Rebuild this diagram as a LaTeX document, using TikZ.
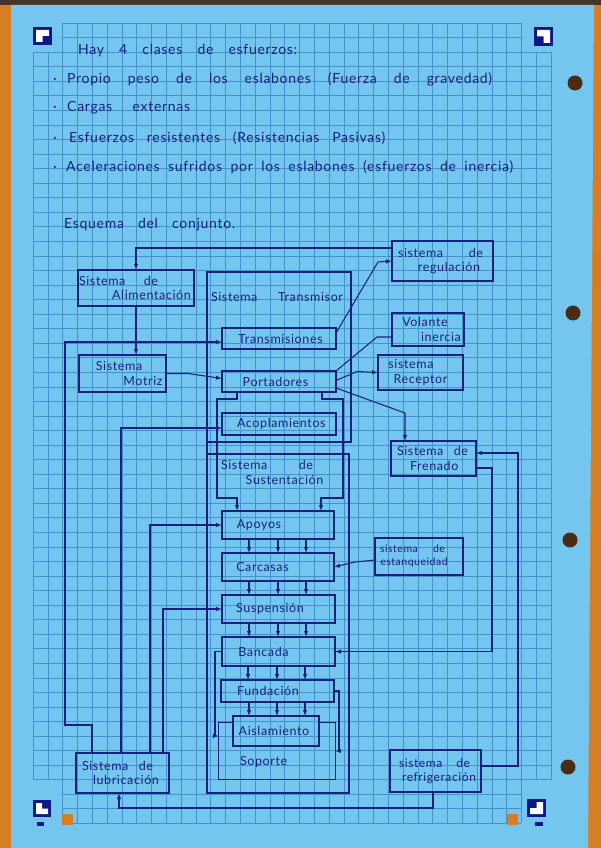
\documentclass[tikz,border=0pt]{standalone}
\usepackage{fontspec}
\usepackage{tikz}
\usetikzlibrary{arrows.meta, calc}

\newfontfamily\handfont{Lato}[LetterSpace=5]

\definecolor{deskorange}{RGB}{214,126,38}
\definecolor{deskdark}{RGB}{70,52,38}
\definecolor{paperblue}{RGB}{116,198,238}
\definecolor{gridblue}{RGB}{66,146,208}
\definecolor{inkblue}{RGB}{26,32,124}
\definecolor{markblue}{RGB}{14,24,132}
\definecolor{holebrown}{RGB}{74,44,20}

\newcommand{\hw}[3][0pt]{\hspace*{#1}\makebox[#2][s]{#3}\hspace*{-#1}}

\tikzset{
  ink/.style={draw=inkblue, line width=1.05pt},
  gridline/.style={draw=gridblue, line width=0.5pt},
  arr/.style={ink, -{Latex[length=6pt,width=4.5pt]}},
  hand/.style={text=inkblue, inner sep=0pt, font=\handfont\fontsize{14}{16}\selectfont},
  lbl/.style={text=inkblue, inner sep=0pt, align=center, font=\handfont\fontsize{12.5}{14.5}\selectfont},
  box/.style={lbl, ink, outer sep=0pt},
}

\begin{document}
\begin{tikzpicture}[x=1pt, y=-1pt]
\useasboundingbox (0,0) rectangle (601,848);
\fill[deskorange] (0,0) rectangle (601,848);
\fill[deskdark] (0,0) rectangle (601,5);
\fill[paperblue] (11,5) -- (594,5) -- (588,848) -- (11,848) -- cycle;

\foreach \i in {0,...,35}
  \draw[gridline] ({33+14.8*\i},52.1) -- ({33+14.8*\i},779.6);
\foreach \j in {2,...,52}
  \draw[gridline] (33,{23+14.55*\j}) -- (551,{23+14.55*\j});
\foreach \i in {2,...,33} {
  \draw[gridline] ({33+14.8*\i},23) -- ({33+14.8*\i},52.1);
  \draw[gridline] ({33+14.8*\i},779.6) -- ({33+14.8*\i},823.2);
}
\foreach \j in {0,1,53,54,55}
  \draw[gridline] (62.6,{23+14.55*\j}) -- (521.4,{23+14.55*\j});

\fill[markblue] (33,27) rectangle (52,45);
\fill[white] (36,30) -- (49,30) -- (49,36) -- (42.5,36) -- (42.5,42) -- (36,42) -- cycle;
\fill[markblue] (534,27) rectangle (553,46);
\fill[white] (537,30) -- (550,30) -- (550,43) -- (543.5,43) -- (543.5,36.5) -- (537,36.5) -- cycle;
\fill[markblue] (33,800) rectangle (51,817);
\fill[white] (36,803) -- (42,803) -- (42,808.5) -- (48,808.5) -- (48,814) -- (36,814) -- cycle;
\fill[markblue] (527,799) rectangle (546,817);
\fill[white] (536.5,802) -- (543,802) -- (543,814) -- (530,814) -- (530,808) -- (536.5,808) -- cycle;
\fill[markblue] (37,822) rectangle (44,826);
\fill[markblue] (535,822) rectangle (543,826);
\fill[deskorange] (62,814) rectangle (73,825);
\fill[deskorange] (507,814) rectangle (518,825);
\foreach \px/\py in {575/83, 573/313, 570/540, 568/767}
  \fill[holebrown] (\px,\py) circle (7.5pt);

\node[hand, anchor=west] (titulo) at (78,51) {\hw{219pt}{Hay 4 clases de esfuerzos:}};
\node[hand, anchor=west] (peso) at (53,79) {\makebox[14pt][l]{·}\hw{425pt}{Propio peso de los eslabones (Fuerza de gravedad)}};
\node[hand, anchor=west] (cargas) at (53,108) {\makebox[14pt][l]{·}\hw{123pt}{Cargas externas}};
\node[hand, anchor=west] (resist) at (53,138) {\makebox[16pt][l]{·}\hw{316pt}{Esfuerzos resistentes (Resistencias Pasivas)}};
\node[hand, anchor=west] (acel) at (53,167) {\makebox[13pt][l]{·}\hw{447pt}{Aceleraciones sufridos por los eslabones (esfuerzos de inercia)}};
\node[hand, anchor=west] (esquema) at (64,225) {\hw{171pt}{Esquema del conjunto.}};

\node[box, minimum width=144pt, minimum height=170pt] (trans) at (279,357) {};
\node[lbl] (transt) at (277,297) {\hw{132pt}{Sistema Transmisor}};
\node[box, minimum width=142pt, minimum height=339pt] (sust) at (278,623.5) {};
\node[lbl] (sustt) at (276,472.5) {\hw[-9pt]{92pt}{Sistema de}\\\hw[8.5pt]{97pt}{\hfil Sustentación\hfil}};
\draw[ink] (trans.south west) -- (sust.north west);

\node[box, minimum width=101pt, minimum height=40pt] (reg) at (442.5,261) {\hw[-2pt]{85pt}{sistema de}\\\hw[6.5pt]{68pt}{\hfil regulación\hfil}};
\node[box, minimum width=116pt, minimum height=36pt] (alim) at (136,288) {\hw[-17.5pt]{79pt}{Sistema de}\\\hw[15.5pt]{83pt}{\hfil Alimentación\hfil}};
\node[box, minimum width=114pt, minimum height=21pt] (tras) at (279,338.5) {\hw[1.5pt]{91pt}{\hfil Transmisiones\hfil}};
\node[box, minimum width=87pt, minimum height=37pt] (motriz) at (122.5,373.5) {\hw[-3.5pt]{52pt}{\hfil Sistema\hfil}\\\hw[20.5pt]{42pt}{\hfil Motriz\hfil}};
\node[box, minimum width=114pt, minimum height=21pt] (port) at (279,381.5) {\hw[-3.5pt]{79pt}{\hfil Portadores\hfil}};
\node[box, minimum width=114pt, minimum height=22pt] (acop) at (279,424) {\hw[1pt]{86pt}{\hfil Acoplamientos\hfil}};
\node[box, minimum width=72pt, minimum height=33pt] (vol) at (428,329.5) {\hw[-3pt]{48pt}{\hfil Volante\hfil}\\\hw[13pt]{40pt}{\hfil inercia\hfil}};
\node[box, minimum width=85pt, minimum height=35pt] (recep) at (420.5,372.5) {\hw[-9.5pt]{52pt}{\hfil sistema\hfil}\\\hw{65pt}{\hfil Receptor\hfil}};
\node[box, minimum width=85pt, minimum height=35pt] (fren) at (433.5,458.5) {\hw[-1pt]{71pt}{Sistema de}\\\hw[-3.5pt]{40pt}{\hfil Frenado\hfil}};
\node[box, minimum width=112pt, minimum height=28pt] (apoy) at (278,525) {\hw[-19pt]{46pt}{\hfil Apoyos\hfil}};
\node[box, minimum width=112pt, minimum height=28pt] (carc) at (278,567) {\hw[-15.5pt]{53pt}{\hfil Carcasas\hfil}};
\node[box, minimum width=113pt, minimum height=28pt] (susp) at (278.5,609) {\hw[-8.5pt]{68pt}{\hfil Suspensión\hfil}};
\node[box, minimum width=113pt, minimum height=29pt] (banc) at (278.5,651.5) {\hw[-15pt]{55pt}{\hfil Bancada\hfil}};
\node[box, minimum width=113pt, minimum height=22pt] (fund) at (277.5,691) {\hw[-9.5pt]{68pt}{\hfil Fundación\hfil}};
\node[lbl, minimum width=116pt, minimum height=56pt] (sop) at (277,751) {};
\node[box, minimum width=86pt, minimum height=30pt] (aisl) at (276,731) {\hw[-2pt]{76pt}{\hfil Aislamiento\hfil}};
\draw[ink] (aisl.west |- sop.north) -- (sop.north west) -- (sop.south west) -- (sop.south east) -- (sop.north east) -- (aisl.east |- sop.north);
\node[lbl] (sopt) at (263,762) {\hw{46pt}{\hfil Soporte\hfil}};
\node[box, minimum width=88pt, minimum height=37pt, font=\handfont\fontsize{10.5}{13}\selectfont] (estan) at (419,556.5) {\hw[-6.5pt]{65pt}{sistema de}\\\hw[-5pt]{76pt}{\hfil estanqueidad\hfil}};
\node[box, minimum width=93pt, minimum height=40pt] (lub) at (122.5,773) {\hw[-5pt]{71pt}{Sistema de}\\\hw[3.5pt]{72pt}{\hfil lubricación\hfil}};
\node[box, minimum width=91pt, minimum height=42pt, font=\handfont\fontsize{12}{14}\selectfont] (refr) at (435.5,771) {\hw[-1pt]{71pt}{sistema de}\\\hw[3.5pt]{74pt}{\hfil refrigeración\hfil}};

\draw[arr] ($(reg.north west)+(0,7)$) -| (alim.north);
\draw[arr] (alim.south) -- (alim.south |- motriz.north);
\draw[arr] (motriz.east) -- ++(22,0) -- ($(port.west)+(0,-3)$);
\draw[arr] ($(tras.north east)+(0,5)$) -- ++(42,-71) -- (reg.west);
\draw[ink] (port.north east) -- ++(41,-34) -- ($(vol.west)+(0,7.5)$);
\draw[arr] ($(port.east)+(0,-1)$) -- ++(21,-9) -- (recep.west);
\draw[arr] ($(port.south east)+(0,-4)$) -- ++(69,25) -- ($(fren.north west)+(14,0)$);
\draw[arr] ($(port.south west)+(15,0)$) -- ++(0,7) -| (217,498) -| ($(apoy.north west)+(15,0)$);
\draw[arr] ($(port.south east)+(-14,0)$) -- ++(0,7) -| (343,498) -| ($(apoy.north east)+(-13,0)$);

\foreach \a/\b in {apoy/carc, carc/susp, susp/banc, banc/fund}
  \foreach \dx in {27,56,84} {
    \coordinate (t) at ($(\b.north west)+(\dx,0)$);
    \draw[arr] (t |- \a.south) -- (t);
  }
\foreach \dx in {16,44,72} {
  \coordinate (t) at ($(aisl.north west)+(\dx,0)$);
  \draw[arr] (t |- fund.south) -- (t);
}

\draw[arr] ($(estan.west)+(0,3.5)$) -- ++(-20,2) -- (carc.east);
\draw[arr] ($(fren.south east)+(0,-8)$) -- ++(16,0) |- (banc.east);
\draw[arr] ($(refr.east)+(0,-5)$) -- ++(37,0) |- ($(fren.east)+(0,-5.5)$);
\draw[arr] ($(refr.south)+(-2.5,0)$) -- ++(0,16) -| ($(lub.south)+(-3.5,0)$);
\draw[arr] ($(lub.north west)+(16,0)$) -- ++(0,-28) -- ++(-27,0) |- ($(tras.west)+(0,3.5)$);
\draw[arr] ($(lub.north west)+(45,0)$) |- ($(acop.west)+(0,4)$);
\draw[arr] ($(lub.north west)+(74,0)$) |- (apoy.west);
\draw[arr] ($(lub.north west)+(87,0)$) |- (susp.west);
\draw[arr] (banc.west) -- ++(-7,0) |- ($(sop.west)+(0,-15)$);
\draw[arr] (fund.east) -- ++(5,0) |- (sop.east);
\end{tikzpicture}
\end{document}
